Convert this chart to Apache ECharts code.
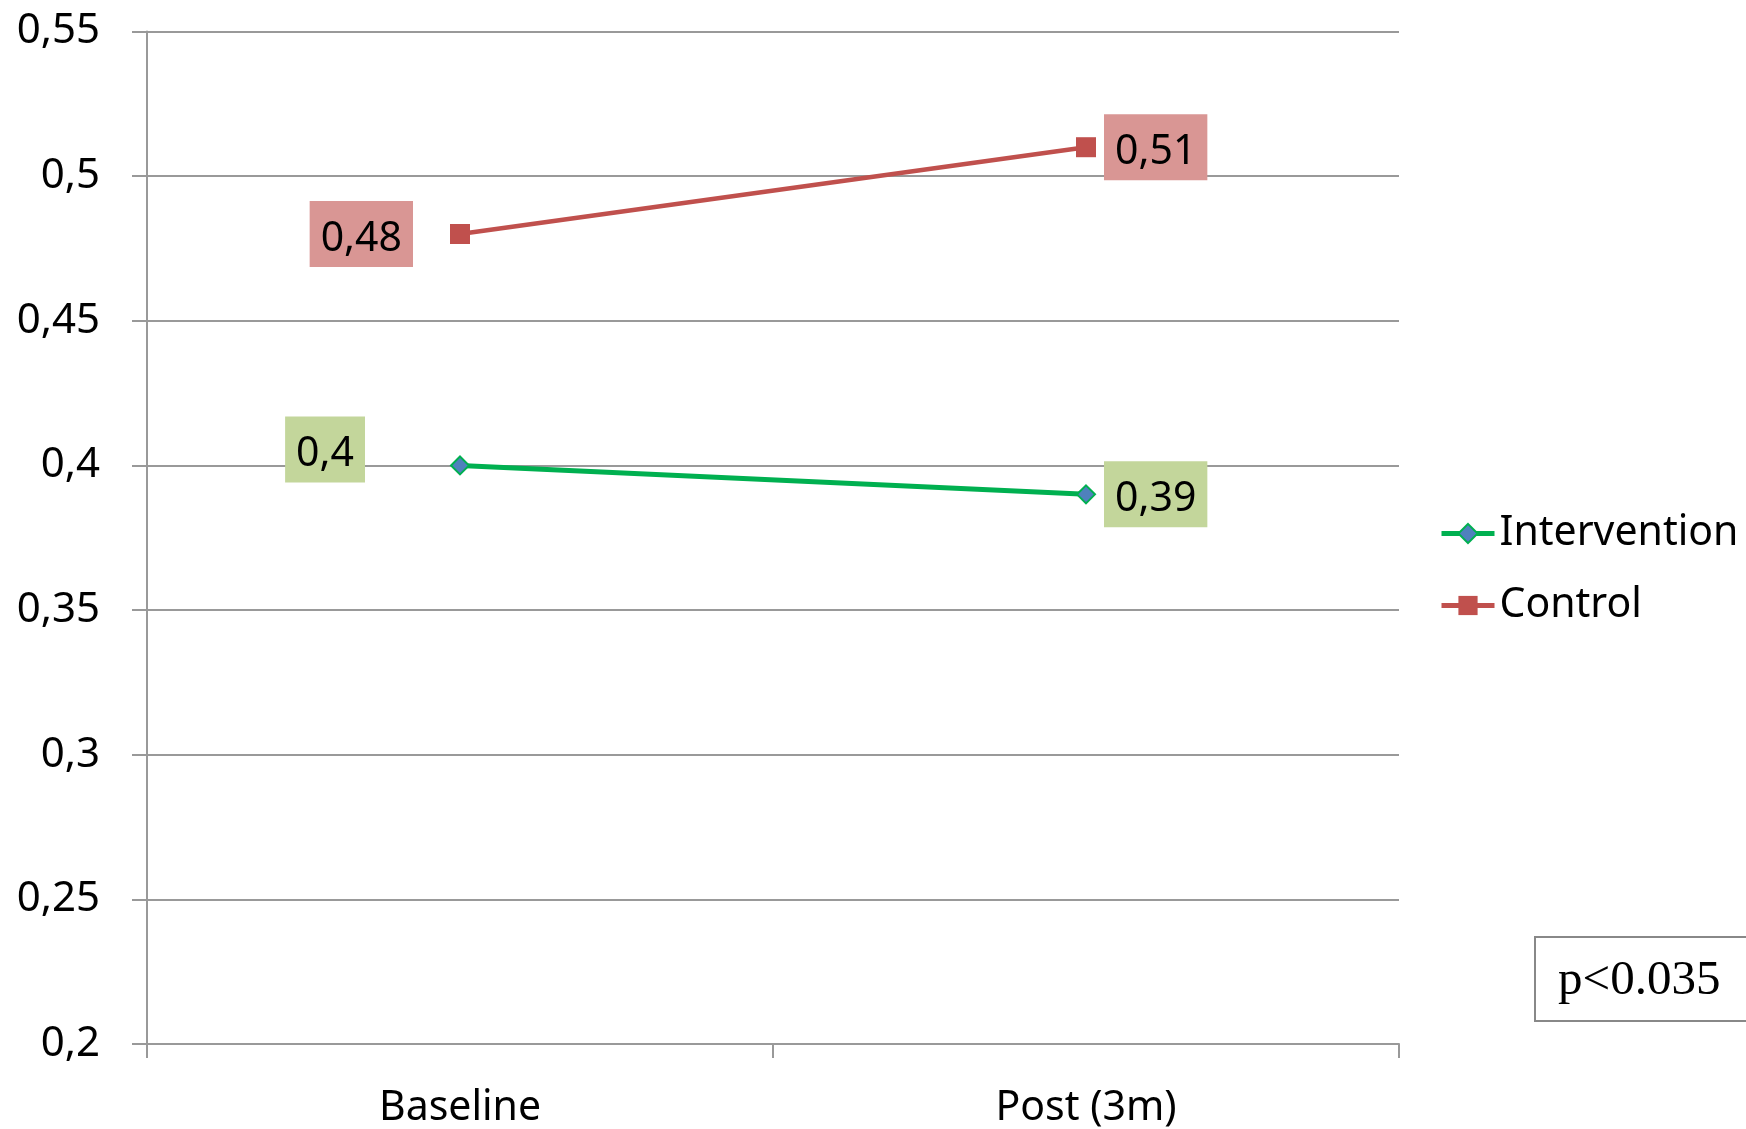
<!DOCTYPE html>
<html>
<head>
<meta charset="utf-8">
<script src="https://cdn.jsdelivr.net/npm/echarts@6/dist/echarts.min.js"></script>
<style>
  html, body { margin: 0; padding: 0; background: #fff; }
  #chart { width: 1746px; height: 1129px; }
</style>
</head>
<body>
<div id="chart"></div>
<script>
// Time points and group means
const categories = ['Baseline', 'Post (3m)'];
const interventionValues = [0.4, 0.39];
const controlValues = [0.48, 0.51];
const yTicks = { min: 0.2, max: 0.55, step: 0.05 };
const pValueText = 'p<0.035';

const FONT = '"Noto Sans", sans-serif';
const GRAY = '#999999';

function fmt(v) {
  return String(+Number(v).toFixed(2)).replace('.', ',');
}

// Value label boxes: baseline labels sit to the left of the point, follow-up labels to the right
function labelFor(i, bg, leftDist, leftOffset) {
  const left = i === 0;
  return {
    show: true,
    position: left ? 'left' : 'right',
    distance: left ? leftDist : 8,
    offset: left ? leftOffset : [0, 0],
    formatter: p => '{v|' + fmt(p.value) + '}',
    rich: {
      v: {
        color: '#000',
        fontFamily: FONT,
        fontSize: 41,
        lineHeight: 41,
        padding: [9, 0, 0, 0]
      }
    },
    backgroundColor: bg,
    padding: [13, 11, 12, 11]
  };
}

const interventionData = interventionValues.map((v, i) => ({
  value: v,
  label: labelFor(i, '#C3D69B', 85, [0, -16])
}));
const controlData = controlValues.map((v, i) => ({
  value: v,
  label: labelFor(i, '#D99694', 37, [0, 0])
}));

const chart = echarts.init(document.getElementById('chart'), null, { renderer: 'canvas' });

chart.setOption({
  animation: false,
  backgroundColor: '#ffffff',
  grid: { left: 147, right: 347, top: 31.5, bottom: 85 },
  legend: {
    orient: 'vertical',
    left: 1439,
    top: 513,
    padding: 0,
    itemGap: 31,
    itemWidth: 53,
    itemHeight: 24,
    lineStyle: { width: 5 },
    textStyle: { fontFamily: FONT, fontSize: 41, color: '#000' },
    data: ['Intervention', 'Control']
  },
  xAxis: {
    type: 'category',
    data: categories,
    boundaryGap: true,
    axisLine: { lineStyle: { color: GRAY, width: 2 } },
    axisTick: { show: true, length: 14, alignWithLabel: false, lineStyle: { color: GRAY, width: 2 } },
    axisLabel: { fontFamily: FONT, fontSize: 41, color: '#000', margin: 44 },
    splitLine: { show: false }
  },
  yAxis: {
    type: 'value',
    min: yTicks.min,
    max: yTicks.max,
    interval: yTicks.step,
    axisLine: { show: true, lineStyle: { color: GRAY, width: 2 } },
    axisTick: { show: true, length: 15, lineStyle: { color: GRAY, width: 2 } },
    axisLabel: { fontFamily: FONT, fontSize: 42, color: '#000', margin: 47, formatter: fmt, padding: [3, 0, 0, 0] },
    splitLine: { show: true, lineStyle: { color: GRAY, width: 2 } }
  },
  series: [
    {
      name: 'Intervention',
      type: 'line',
      data: interventionData,
      symbol: 'diamond',
      symbolSize: 18,
      lineStyle: { color: '#00B050', width: 5 },
      itemStyle: { color: '#4F81BD', borderColor: '#00B050', borderWidth: 2 },
      z: 3
    },
    {
      name: 'Control',
      type: 'line',
      data: controlData,
      symbol: 'rect',
      symbolSize: 20,
      lineStyle: { color: '#C0504D', width: 4.5 },
      itemStyle: { color: '#C0504D' },
      z: 3
    }
  ],
  graphic: [
    {
      type: 'rect',
      left: 1534,
      top: 936,
      shape: { width: 240, height: 84 },
      style: { fill: '#fff', stroke: '#888888', lineWidth: 2 }
    },
    {
      type: 'text',
      left: 1558,
      top: 957,
      style: {
        text: pValueText,
        font: '49px "Liberation Serif", "Times New Roman", serif',
        fill: '#000'
      }
    }
  ]
});
</script>
</body>
</html>
